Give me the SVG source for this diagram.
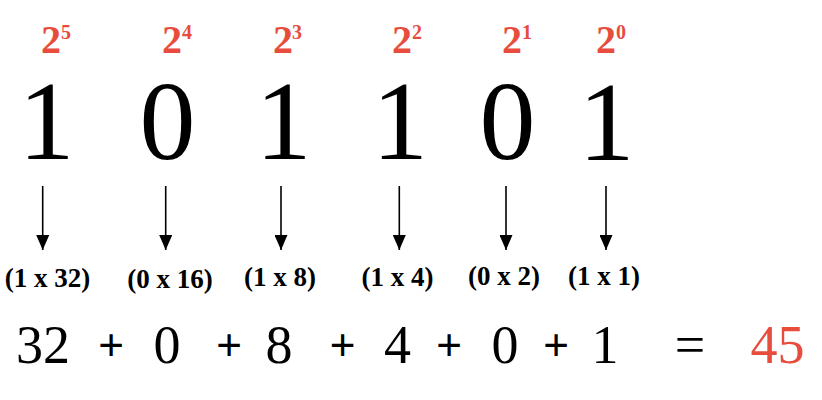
<svg xmlns="http://www.w3.org/2000/svg" width="822" height="400" viewBox="0 0 822 400">
<defs>
<style>
.pw{font-family:"Liberation Serif",serif;font-weight:bold;fill:#e84c3d}
.base{font-size:40px}
.sup{font-size:20px}
.bit{font-family:"Liberation Serif",serif;font-size:112px;fill:#000;text-anchor:middle}
.lbl{font-family:"Liberation Serif",serif;font-weight:bold;font-size:27px;fill:#000;text-anchor:middle}
.num{font-family:"Liberation Serif",serif;font-size:54px;fill:#000;text-anchor:middle}
.plus{font-family:"Liberation Sans",sans-serif;font-size:44px;fill:#000;text-anchor:middle}
.res{fill:#e84c3d}
.arr{stroke:#000;stroke-width:1.6;fill:none}
</style>
<marker id="ah" markerWidth="15" markerHeight="13" refX="15" refY="6.5" orient="auto" markerUnits="userSpaceOnUse" viewBox="0 0 15 13">
<path d="M0,0 L15,6.5 L0,13 Z" fill="#000"/>
</marker>
</defs>
<rect width="822" height="400" fill="#fff"/>
<g id="powers">
<g id="p5"><text class="pw base" x="41" y="53">2</text><text class="pw sup" x="61" y="39">5</text></g>
<g id="p4"><text class="pw base" x="162" y="53">2</text><text class="pw sup" x="182" y="39">4</text></g>
<g id="p3"><text class="pw base" x="273" y="53">2</text><text class="pw sup" x="292" y="39">3</text></g>
<g id="p2"><text class="pw base" x="392" y="53">2</text><text class="pw sup" x="412" y="39">2</text></g>
<g id="p1"><text class="pw base" x="502" y="53">2</text><text class="pw sup" x="522" y="39">1</text></g>
<g id="p0"><text class="pw base" x="596" y="53">2</text><text class="pw sup" x="616" y="39">0</text></g>
</g>
<g id="bits">
<g id="b5"><text class="bit" x="46.5" y="159">1</text></g>
<g id="b4"><text class="bit" x="167.5" y="159">0</text></g>
<g id="b3"><text class="bit" x="283.5" y="159">1</text></g>
<g id="b2"><text class="bit" x="400" y="159">1</text></g>
<g id="b1"><text class="bit" x="507.5" y="159">0</text></g>
<g id="b0"><text class="bit" x="606.5" y="160">1</text></g>
</g>
<g id="connectors">
<line class="arr" x1="42.7" y1="186" x2="42.7" y2="250" marker-end="url(#ah)"/>
<line class="arr" x1="165.7" y1="186" x2="165.7" y2="250" marker-end="url(#ah)"/>
<line class="arr" x1="281" y1="186" x2="281" y2="250" marker-end="url(#ah)"/>
<line class="arr" x1="399.3" y1="186" x2="399.3" y2="250" marker-end="url(#ah)"/>
<line class="arr" x1="506" y1="186" x2="506" y2="250" marker-end="url(#ah)"/>
<line class="arr" x1="606" y1="186" x2="606" y2="250" marker-end="url(#ah)"/>
</g>
<g id="labels">
<g id="l5"><text class="lbl" x="47.5" y="287">(1 x 32)</text></g>
<g id="l4"><text class="lbl" x="170" y="288">(0 x 16)</text></g>
<g id="l3"><text class="lbl" x="280" y="286">(1 x 8)</text></g>
<g id="l2"><text class="lbl" x="397.5" y="286">(1 x 4)</text></g>
<g id="l1"><text class="lbl" x="504" y="285">(0 x 2)</text></g>
<g id="l0"><text class="lbl" x="604" y="285">(1 x 1)</text></g>
</g>
<g id="sum">
<text class="num" x="43" y="363">32</text>
<text class="plus" x="111" y="360">+</text>
<text class="num" x="167" y="363">0</text>
<text class="plus" x="229" y="360">+</text>
<text class="num" x="279" y="363">8</text>
<text class="plus" x="342.5" y="360">+</text>
<text class="num" x="397.5" y="363">4</text>
<text class="plus" x="449" y="360">+</text>
<text class="num" x="505" y="363">0</text>
<text class="plus" x="556" y="360">+</text>
<text class="num" x="605" y="363">1</text>
<text class="num" x="690" y="363">=</text>
<text class="num res" x="777.5" y="363">45</text>
</g>
</svg>
